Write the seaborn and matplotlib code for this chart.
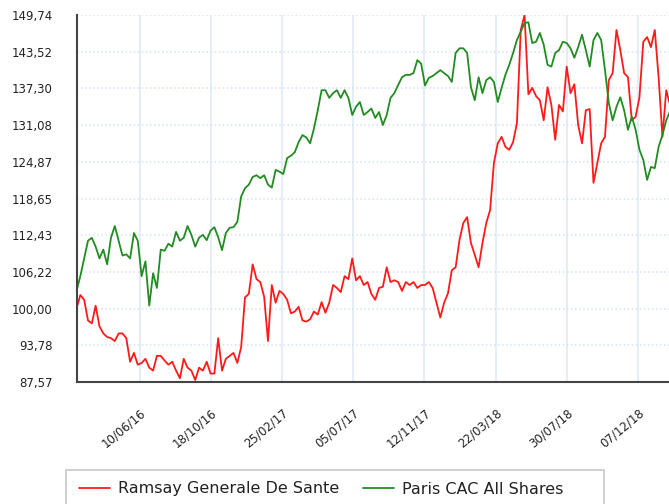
# -*- coding: utf-8 -*-
"""
Ramsay Generale De Sante x Paris CAC All Shares (base 100)
Serie semanal lida do grafico de referencia.
"""

import matplotlib
matplotlib.use('Agg')
import matplotlib.pyplot as plt
from matplotlib.patches import Rectangle
import seaborn as sns
import pandas as pd

# Dados (valores semanais, base 100, a partir de 15/02/2016)
inicio = '2016-02-15'

ramsay = [
    100.0, 102.3, 101.5, 98.0, 97.5, 100.5, 97.0, 95.8, 95.2, 95.0,
    94.5, 95.8, 95.8, 95.0, 91.0, 92.5, 90.5, 90.8, 91.5, 90.0,
    89.5, 92.0, 92.0, 91.2, 90.5, 91.0, 89.5, 88.2, 91.5, 90.0,
    89.5, 87.9, 90.0, 89.5, 91.0, 89.0, 89.0, 95.0, 89.5, 91.5,
    92.0, 92.5, 90.8, 93.5, 101.9, 102.5, 107.5, 105.0, 104.5, 102.0,
    94.5, 104.0, 101.0, 103.0, 102.5, 101.5, 99.2, 99.5, 100.3, 98.0,
    97.8, 98.2, 99.5, 99.0, 101.1, 99.3, 101.0, 104.0, 103.5, 102.8,
    105.5, 105.0, 108.5, 104.8, 105.5, 104.0, 104.5, 102.5, 101.5, 103.5,
    103.7, 107.0, 104.5, 104.8, 104.5, 103.0, 104.5, 104.0, 104.5, 103.5,
    104.0, 104.0, 104.5, 103.5, 101.0, 98.5, 101.0, 102.6, 106.5, 107.0,
    111.6, 114.5, 115.5, 111.1, 109.1, 107.0, 111.1, 114.5, 116.7, 124.7,
    128.0, 129.1, 127.4, 126.9, 128.2, 131.4, 147.2, 149.74, 136.3, 137.4,
    136.0, 135.3, 131.9, 137.5, 134.5, 128.6, 134.5, 133.4, 141.0, 136.5,
    138.0, 131.1, 128.0, 133.6, 133.8, 121.3, 124.7, 128.0, 129.1, 138.7,
    139.9, 147.2, 143.8, 139.9, 139.2, 131.9, 132.5, 135.8, 145.2, 146.0,
    144.3, 147.2, 139.2, 129.1, 137.0, 134.5,
]

cac_all = [
    103.0, 105.5, 108.5, 111.5, 112.0, 110.5, 108.5, 110.0, 107.5, 112.0,
    114.0, 111.5, 109.0, 109.2, 108.5, 112.8, 111.5, 105.5, 108.0, 100.5,
    106.0, 103.5, 110.0, 109.8, 111.0, 110.5, 113.0, 111.5, 112.0, 114.0,
    112.5, 110.5, 112.0, 112.5, 111.6, 113.2, 113.8, 112.1, 109.9, 112.8,
    113.7, 113.8, 114.7, 119.0, 120.4, 121.0, 122.3, 122.6, 122.1, 122.6,
    121.0, 120.5, 123.5, 123.2, 122.8, 125.5, 125.9, 126.5, 128.2, 129.4,
    129.0, 128.0, 130.5, 133.6, 137.0, 137.0, 135.7, 136.5, 137.0, 135.7,
    137.0, 135.7, 132.8, 134.2, 135.0, 132.8, 133.3, 133.9, 132.3, 133.3,
    131.1, 132.8, 135.7, 136.5, 137.9, 139.2, 139.6, 139.6, 139.9, 142.1,
    141.5, 137.8, 139.1, 139.4, 139.9, 140.4, 139.9, 139.4, 138.4, 143.3,
    144.1, 144.1, 143.3, 137.5, 135.3, 139.2, 136.5, 138.7, 139.2, 138.4,
    135.0, 137.4, 139.6, 141.3, 143.3, 145.5, 146.9, 148.4, 148.5, 145.0,
    145.2, 146.7, 144.7, 141.3, 141.0, 143.3, 143.8, 145.2, 145.0, 144.1,
    142.5, 144.3, 146.4, 143.8, 141.0, 145.5, 146.7, 145.5, 140.4, 134.8,
    131.9, 134.2, 135.8, 133.6, 130.3, 132.5, 130.3, 126.9, 125.2, 121.8,
    124.0, 123.8, 127.4, 129.4, 131.9, 133.5,
]

series = ['Ramsay Generale De Sante', 'Paris CAC All Shares']
cores = ['#ff1a1a', '#228b22']

y_ticks = [87.57, 93.78, 100.00, 106.22, 112.43, 118.65, 124.87, 131.08, 137.30, 143.52, 149.74]
x_ticks = ['2016-06-10', '2016-10-18', '2017-02-25', '2017-07-05',
           '2017-11-12', '2018-03-22', '2018-07-30', '2018-12-07']

# Montar DataFrame em formato longo
datas = pd.date_range(inicio, periods=len(ramsay), freq='7D')
df = pd.concat([
    pd.DataFrame({'data': datas, 'valor': ramsay, 'serie': series[0]}),
    pd.DataFrame({'data': datas, 'valor': cac_all, 'serie': series[1]}),
])

# Estilo
sns.set_style('white')
plt.rcParams['font.family'] = ['DejaVu Sans']

fig = plt.figure(figsize=(6.69, 5.04), dpi=100)
ax = fig.add_axes([76.5 / 669, 1 - 382 / 504, 1 - 76.5 / 669, (382 - 15) / 504])

sns.lineplot(data=df, x='data', y='valor', hue='serie', hue_order=series,
             palette=cores, linewidth=1.3, ax=ax)
handles, labels = ax.get_legend_handles_labels()
ax.get_legend().remove()

# Eixos
ax.set_xlim(pd.Timestamp('2016-02-15'), pd.Timestamp('2019-02-02'))
ax.set_ylim(y_ticks[0], y_ticks[-1])
ax.set_xlabel('')
ax.set_ylabel('')

ax.set_yticks(y_ticks)
ax.set_yticklabels([f'{v:.2f}'.replace('.', ',') for v in y_ticks])
xt = pd.to_datetime(x_ticks)
ax.set_xticks(xt)
ax.set_xticklabels([d.strftime('%d/%m/%y') for d in xt], rotation=40,
                   ha='right', rotation_mode='anchor')

ax.yaxis.grid(True, color='#d3e2f5', linestyle=':', linewidth=1.1)
ax.xaxis.grid(True, color='#dce8f7', linestyle='-', linewidth=1.1)
ax.set_axisbelow(True)

ax.tick_params(axis='y', length=15, width=1.1, color='#d3e2f5', pad=2,
               labelsize=8.5, labelcolor='#222222')
ax.tick_params(axis='x', length=13.5, width=1.1, color='#dce8f7', pad=4,
               labelsize=8.5, labelcolor='#222222')

for lado in ['top', 'right']:
    ax.spines[lado].set_visible(False)
for lado in ['left', 'bottom']:
    ax.spines[lado].set_color('#444444')
    ax.spines[lado].set_linewidth(1.5)

# Caixa da legenda (cortada na borda inferior, como no original)
fig.patches.append(Rectangle((66 / 669, -0.05), 538 / 669, (504 - 470) / 504 + 0.05,
                             transform=fig.transFigure, facecolor='white',
                             edgecolor='#c8c8c8', linewidth=1.2))

fig.legend(handles, labels, loc='center left', bbox_to_anchor=(79 / 669, 1 - 489 / 504),
           ncol=2, frameon=False, fontsize=11.5, handlelength=1.95,
           handletextpad=0.5, columnspacing=1.5, borderpad=0, borderaxespad=0,
           labelcolor='#222222')

fig.savefig('out.png', dpi=100)
